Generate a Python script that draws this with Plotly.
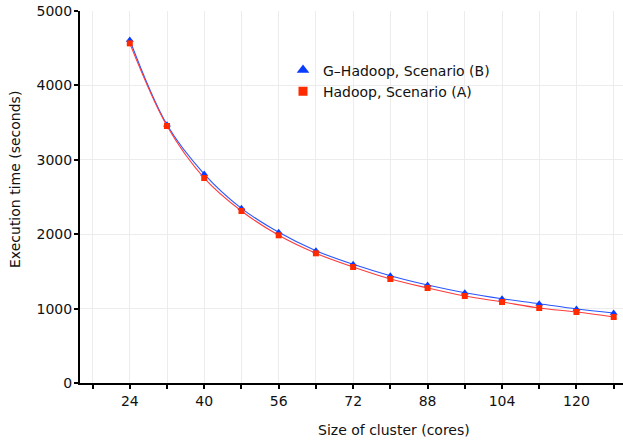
import plotly.graph_objects as go

# Cluster sizes (cores) and execution times (seconds)
cores = [24, 32, 40, 48, 56, 64, 72, 80, 88, 96, 104, 112, 120, 128]
g_hadoop_b = [4610, 3470, 2809, 2348, 2025, 1778, 1595, 1442, 1317, 1214, 1133, 1066, 995, 941]
hadoop_a = [4565, 3454, 2755, 2312, 1985, 1743, 1559, 1398, 1277, 1169, 1089, 1008, 954, 887]

series_names = ["G\u2013Hadoop, Scenario (B)", "Hadoop, Scenario (A)"]
blue = "#0a3cff"
red = "#ff2a00"
font_family = "DejaVu Sans"

fig = go.Figure()

# Data curves (smoothed lines with markers)
fig.add_trace(go.Scatter(
    x=cores, y=g_hadoop_b, mode="lines+markers",
    line=dict(color="#2a55ff", width=1.1, shape="spline", smoothing=1.0),
    marker=dict(symbol="triangle-up", size=7, color=blue),
    showlegend=False,
))
fig.add_trace(go.Scatter(
    x=cores, y=hadoop_a, mode="lines+markers",
    line=dict(color="#ff3b3b", width=1.1, shape="spline", smoothing=1.0),
    marker=dict(symbol="square", size=6, color=red),
    showlegend=False,
))

# Legend entries (markers only)
fig.add_trace(go.Scatter(
    x=[None], y=[None], mode="markers", name=series_names[0],
    marker=dict(symbol="triangle-up", size=11, color=blue),
))
fig.add_trace(go.Scatter(
    x=[None], y=[None], mode="markers", name=series_names[1],
    marker=dict(symbol="square", size=9, color=red),
))

fig.update_layout(
    width=623, height=443,
    margin=dict(l=80, r=0, t=11, b=60),
    plot_bgcolor="white", paper_bgcolor="white",
    font=dict(family=font_family, size=14, color="#111111"),
    legend=dict(
        x=(283 - 80) / 543, y=0.883, xanchor="left", yanchor="top",
        bgcolor="rgba(0,0,0,0)", font=dict(size=14),
        tracegroupgap=0, itemwidth=30,
    ),
    xaxis=dict(
        range=[13.3, 130], tick0=8, dtick=16,
        ticks="outside", ticklen=4, tickcolor="black", tickwidth=1.5,
        showline=True, linecolor="black", linewidth=2,
        showgrid=True, gridcolor="#ececec", gridwidth=1,
        minor=dict(tick0=0, dtick=8, ticks="outside", ticklen=4,
                   tickcolor="black", tickwidth=1.5,
                   showgrid=True, gridcolor="#ececec", gridwidth=1),
        zeroline=False,
    ),
    yaxis=dict(
        range=[0, 5000], dtick=1000,
        ticks="outside", ticklen=4, tickcolor="black", tickwidth=1.5,
        ticklabelstandoff=-1,
        showline=True, linecolor="black", linewidth=2,
        showgrid=True, gridcolor="#ececec", gridwidth=1,
        zeroline=False,
    ),
    annotations=[
        dict(text="Size of cluster (cores)", xref="paper", yref="paper",
             x=(394 - 80) / 543, y=-47 / 372, xanchor="center", yanchor="middle",
             showarrow=False, font=dict(size=14)),
        dict(text="Execution time (seconds)", xref="paper", yref="paper",
             x=-65 / 543, y=(383 - 180) / 372, xanchor="center", yanchor="middle",
             textangle=-90, showarrow=False, font=dict(size=14)),
    ],
)

fig.write_html("out.html")
